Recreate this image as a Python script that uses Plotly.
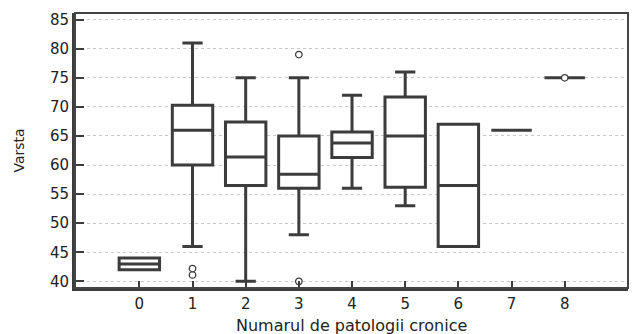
import plotly.graph_objects as go

categories = [0, 1, 2, 3, 4, 5, 6, 7, 8]
q1 = [42, 60, 56.5, 56, 61.3, 56.2, 46, 66, 75]
median = [43, 66, 61.4, 58.4, 63.8, 65, 56.5, 66, 75]
q3 = [44, 70.3, 67.4, 65, 65.7, 71.7, 67, 66, 75]
lower_fence = [42, 46, 40, 48, 56, 53, 46, 66, 75]
upper_fence = [44, 81, 75, 75, 72, 76, 67, 66, 75]
outlier_x = [1, 1, 3, 3, 8]
outlier_y = [41.1, 42.2, 79, 40, 75]
y_ticks = [40, 45, 50, 55, 60, 65, 70, 75, 80, 85]

dark = "#3c3c3c"
font_family = "DejaVu Sans, Liberation Sans, Arial, sans-serif"

fig = go.Figure()
fig.add_trace(go.Box(
    x=categories, q1=q1, median=median, q3=q3,
    lowerfence=lower_fence, upperfence=upper_fence,
    width=0.76, whiskerwidth=0.5,
    fillcolor="white", line=dict(color=dark, width=3),
    boxpoints=False, showlegend=False,
))

fig.add_trace(go.Scatter(
    x=outlier_x, y=outlier_y, mode="markers",
    marker=dict(symbol="circle", size=6.5, color="white",
                line=dict(color=dark, width=1.3)),
    showlegend=False,
))

fig.add_shape(type="rect", xref="paper", yref="paper", x0=0, x1=1, y0=0, y1=1,
              line=dict(color="#444444", width=2), layer="above")

fig.add_annotation(text="Numarul de patologii cronice", xref="paper", yref="paper",
                   x=0.5, y=0, xanchor="center", yanchor="middle", yshift=-37,
                   showarrow=False, font=dict(size=16, family=font_family, color="#222222"))
fig.add_annotation(text="Varsta", xref="paper", yref="paper", textangle=-90,
                   x=0, y=0.5, xanchor="center", yanchor="middle", xshift=-57,
                   showarrow=False, font=dict(size=14, family=font_family, color="#222222"))

fig.update_layout(
    width=635, height=334,
    margin=dict(l=75, r=7, t=13, b=46),
    paper_bgcolor="white", plot_bgcolor="white",
    font=dict(family=font_family, color="#222222"),
    xaxis=dict(
        range=[-1.21, 9.19], tickmode="array", tickvals=categories,
        ticktext=[str(c) for c in categories],
        ticks="inside", ticklen=7, tickwidth=2, tickcolor=dark,
        showgrid=False, zeroline=False, automargin=False,
        showline=True, linecolor=dark, linewidth=3,
        tickfont=dict(size=15),
    ),
    yaxis=dict(
        range=[38.86, 86.15], tickmode="array", tickvals=y_ticks,
        ticks="inside", ticklen=9, tickwidth=2, tickcolor=dark,
        showgrid=True, gridcolor="#c8c8c8", gridwidth=1, griddash="dot",
        zeroline=False, automargin=False,
        showline=True, linecolor=dark, linewidth=3,
        tickfont=dict(size=15),
    ),
)

fig.write_html("out.html", config={"displayModeBar": False},
               post_script="document.body.style.margin='0';document.body.style.overflow='hidden';")
